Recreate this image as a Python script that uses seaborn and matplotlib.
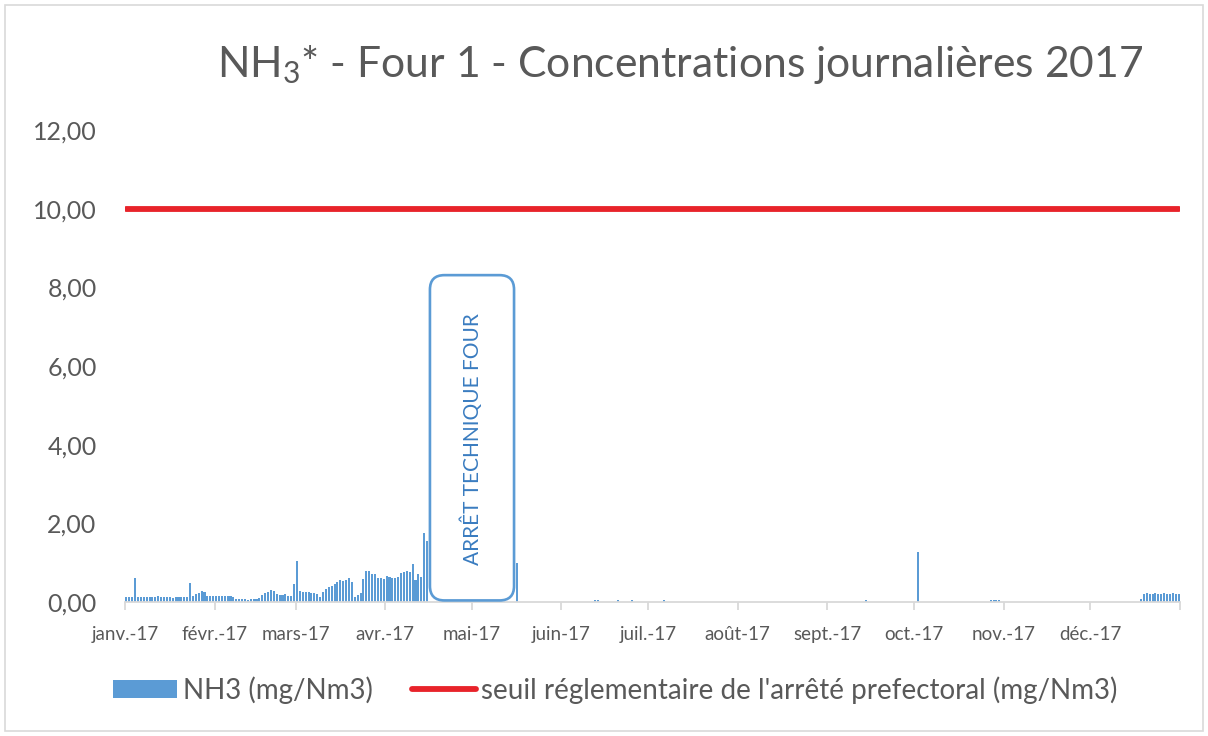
import numpy as np
import pandas as pd
import matplotlib
matplotlib.use("Agg")
import matplotlib.pyplot as plt
from matplotlib.patches import FancyBboxPatch, Patch, Rectangle
from matplotlib.lines import Line2D
import seaborn as sns

# ---- data: daily NH3 concentrations, four 1, 2017 (mg/Nm3) ----
months = ["janv.-17", "févr.-17", "mars-17", "avr.-17", "mai-17", "juin-17",
          "juil.-17", "août-17", "sept.-17", "oct.-17", "nov.-17", "déc.-17"]
month_lengths = [31, 28, 31, 30, 31, 30, 31, 31, 30, 31, 30, 31]

jan = [0.12, 0.13, 0.12, 0.62, 0.12, 0.12, 0.13, 0.12, 0.12, 0.13, 0.12, 0.15,
       0.13, 0.13, 0.12, 0.12, 0.11, 0.12, 0.12, 0.12, 0.13, 0.12, 0.49, 0.15,
       0.20, 0.24, 0.27, 0.26, 0.15, 0.14, 0.15]
feb = [0.15, 0.16, 0.15, 0.15, 0.16, 0.14, 0.12, 0.07, 0.08, 0.07, 0.07, 0.06,
       0.07, 0.07, 0.08, 0.10, 0.18, 0.22, 0.26, 0.30, 0.29, 0.20, 0.18, 0.17,
       0.20, 0.16, 0.15, 0.45]
mar = [1.04, 0.27, 0.26, 0.25, 0.26, 0.24, 0.22, 0.20, 0.13, 0.25, 0.32, 0.37,
       0.40, 0.45, 0.50, 0.55, 0.53, 0.56, 0.62, 0.52, 0.13, 0.17, 0.22, 0.58,
       0.78, 0.79, 0.70, 0.72, 0.60, 0.61, 0.58]
apr = [0.66, 0.63, 0.62, 0.60, 0.63, 0.75, 0.77, 0.78, 0.76, 0.97, 0.56, 0.72,
       0.64, 1.76, 1.56, 0, 0, 0, 0, 0, 0, 0, 0, 0, 0, 0, 0, 0, 0, 0]
may = [0, 0, 0, 0, 0, 0, 0, 0, 0, 0, 0, 0, 0, 0, 0, 1.00, 0, 0, 0, 0, 0, 0, 0,
       0, 0, 0, 0, 0, 0, 0, 0]
jun = [0, 0, 0, 0, 0, 0, 0, 0, 0, 0, 0, 0.04, 0.04, 0, 0, 0, 0, 0, 0, 0.04, 0,
       0, 0, 0, 0.04, 0, 0, 0, 0, 0]
jul = [0, 0, 0, 0, 0, 0.04, 0, 0, 0, 0, 0, 0, 0, 0, 0, 0, 0, 0, 0, 0, 0, 0, 0,
       0, 0, 0, 0, 0, 0, 0, 0]
aug = [0, 0, 0, 0, 0, 0, 0, 0, 0, 0, 0, 0, 0, 0, 0, 0, 0, 0, 0, 0, 0, 0, 0, 0,
       0, 0, 0, 0, 0, 0, 0]
sep = [0, 0, 0, 0, 0, 0, 0, 0, 0, 0, 0, 0, 0, 0.04, 0, 0, 0, 0, 0, 0, 0, 0, 0,
       0, 0, 0, 0, 0, 0, 0]
oct_ = [0, 1.28, 0, 0, 0, 0, 0, 0, 0, 0, 0, 0, 0, 0, 0, 0, 0, 0, 0, 0, 0, 0, 0,
        0, 0, 0, 0.04, 0.04, 0.04, 0.04, 0]
nov = [0, 0, 0, 0, 0, 0, 0, 0, 0, 0, 0, 0, 0, 0, 0, 0, 0, 0, 0, 0, 0, 0, 0, 0,
       0, 0, 0, 0, 0, 0]
dec = [0, 0, 0, 0, 0, 0, 0, 0, 0, 0, 0, 0, 0, 0, 0, 0, 0, 0.08, 0.21, 0.22,
       0.21, 0.21, 0.22, 0.21, 0.21, 0.22, 0.21, 0.21, 0.22, 0.21, 0.21]

seuil = 10.0  # regulatory limit (mg/Nm3)

# ---- assemble ----
daily = jan + feb + mar + apr + may + jun + jul + aug + sep + oct_ + nov + dec
day_index = np.arange(len(daily))
df = pd.DataFrame({"jour": day_index + 0.5, "nh3": daily})
df["seuil"] = seuil
month_starts = np.concatenate([[0], np.cumsum(month_lengths)])

BLUE = "#5b9bd5"
RED = "#e8232a"
TXT = "#595959"
GRID = "#d9d9d9"

sns.set_theme(style="white")
plt.rcParams["font.family"] = ["Lato", "DejaVu Sans"]
plt.rcParams["mathtext.fontset"] = "custom"
plt.rcParams["mathtext.rm"] = "Lato"
plt.rcParams["mathtext.it"] = "Lato:italic"

W, H = 1208, 736
fig = plt.figure(figsize=(W / 100, H / 100), dpi=100)
fig.patch.set_facecolor("white")
ax = fig.add_axes([125 / W, 1 - 602 / H, 1055 / W, 472 / H])

sns.barplot(data=df, x="jour", y="nh3", native_scale=True, color=BLUE,
            saturation=1, width=0.72, errorbar=None, linewidth=0, ax=ax)
sns.lineplot(data=df, x="jour", y="seuil", color=RED, linewidth=4.2,
             solid_capstyle="round", ax=ax)

ax.set_xlim(0, 365)
ax.set_ylim(0, 12)
ax.set_xlabel("")
ax.set_ylabel("")
ax.grid(False)

yt = np.arange(0, 13, 2)
ax.set_yticks(yt)
ax.set_yticklabels([f"{v:.2f}".replace(".", ",") for v in yt])
ax.set_xticks(month_starts)
ax.set_xticklabels(months + [""])

ax.tick_params(axis="x", bottom=True, direction="out", length=6, width=1.3,
               color=GRID, pad=11, labelsize=13.5, labelcolor=TXT)
ax.tick_params(axis="y", left=False, length=0, pad=20.5, labelsize=18,
               labelcolor=TXT)
for side in ["top", "right", "left"]:
    ax.spines[side].set_visible(False)
ax.spines["bottom"].set_color(GRID)
ax.spines["bottom"].set_linewidth(1.3)

# shutdown annotation box
pos = ax.get_position()
aspect = (12 / (pos.height * H)) / (365 / (pos.width * W))
box_x0, box_x1, box_y0, box_y1 = 105.5, 134.6, 0.04, 8.31
ax.add_patch(FancyBboxPatch((box_x0, box_y0), box_x1 - box_x0, box_y1 - box_y0,
                            boxstyle="round,pad=0,rounding_size=5",
                            mutation_aspect=aspect, facecolor="white",
                            edgecolor=BLUE, linewidth=1.9, zorder=5))
ax.text((box_x0 + box_x1) / 2, 4.14, "ARRÊT TECHNIQUE FOUR", rotation=90,
        ha="center", va="center", fontsize=15, color="#3a7cc0", zorder=6)

fig.text(0.563, 0.913, r"NH$_3$* - Four 1 - Concentrations journalières 2017",
         ha="center", va="center", fontsize=30.7, color=TXT)

handles = [Patch(facecolor=BLUE, edgecolor="none"),
           Line2D([], [], color=RED, linewidth=4.2, solid_capstyle="round")]
labels = ["NH3 (mg/Nm3)", "seuil réglementaire de l'arrêté prefectoral (mg/Nm3)"]
fig.legend(handles, labels, loc="center", bbox_to_anchor=(0.5095, 0.0625),
           ncol=2, frameon=False, fontsize=20, handlelength=2.3,
           handleheight=0.6, handletextpad=0.2, columnspacing=1.4,
           labelcolor=TXT)

fig.patches.append(Rectangle((5 / W, 5 / H), 1198 / W, 726 / H,
                             transform=fig.transFigure, fill=False,
                             edgecolor=GRID, linewidth=1.2))

fig.savefig("out.png", dpi=100, facecolor="white")
